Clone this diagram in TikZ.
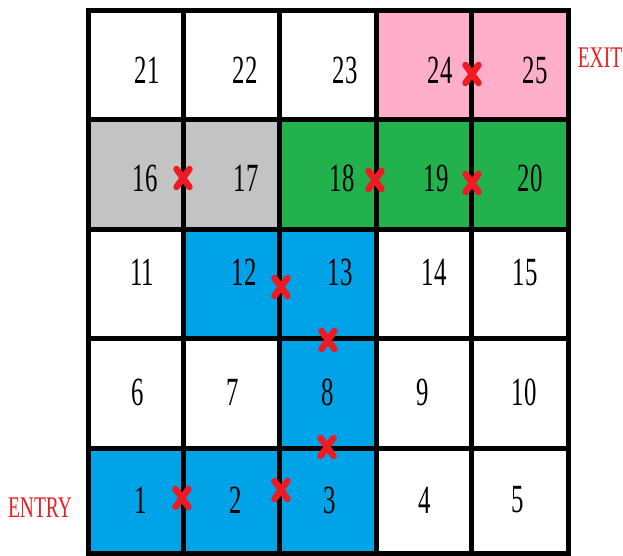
\documentclass[tikz,border=0pt]{standalone}
\usepackage{fontspec}
\newfontfamily\numfont[FakeStretch=0.62]{Liberation Serif}
\newfontfamily\lblfont[FakeStretch=0.65]{Liberation Serif}
\definecolor{cpink}{RGB}{255,174,201}
\definecolor{cgray}{RGB}{195,195,195}
\definecolor{cgreen}{RGB}{34,177,76}
\definecolor{cblue}{RGB}{0,162,232}
\definecolor{cred}{RGB}{237,28,36}
\begin{document}
\begin{tikzpicture}[x=1pt,y=-1pt,
  num/.style={inner sep=0pt, font=\numfont\fontsize{40}{40}\selectfont},
  side/.style={inner sep=0pt, text=cred, font=\lblfont\fontsize{30}{30}\selectfont},
  gridline/.style={line width=5pt, black},
  xstroke/.style={line width=6.5pt, cred, line cap=round}]
\useasboundingbox (0,0) rectangle (623,556);
\fill[white] (0,0) rectangle (623,556);
% cell fills
\fill[cpink] (376,11) rectangle (568,120);
\fill[cgray] (88,120) rectangle (279,229);
\fill[cgreen] (279,120) rectangle (568,229);
\fill[cblue] (183,229) rectangle (376,338);
\fill[cblue] (279,338) rectangle (376,448);
\fill[cblue] (88,448) rectangle (376,553);
% grid
\foreach \x in {183,279,376,471} \draw[gridline] (\x,11) -- (\x,553);
\foreach \y in {120,229,338,448} \draw[gridline] (88,\y) -- (568,\y);
\draw[gridline] (88,11) rectangle (568,553);
% numbers
\foreach \n/\x/\y in {21/147/70,22/245/70,23/345/70,24/440/70,25/535/70,
  16/145/178,17/246/178,18/342/178,19/436/178,20/530/178,
  11/142/272,12/244/272,13/340/272,14/434/272,15/525/272,
  6/138/392,7/233/392,8/328/392,9/423/392,10/524/392,
  1/141/500,2/236/500,3/330/500,4/425/500,5/518/500}
  \node[num] (n\n) at (\x,\y) {\n};
% labels
\node[side] (exit) at (600,58) {EXIT};
\node[side] (entry) at (40,508) {ENTRY};
% red crosses
\foreach \i/\x/\y in {a/472/74,b/183/178,c/375/180,d/472/183,e/281/287,
  f/328/340,g/327/447,h/182/498,k/281/490}
  \coordinate (x\i) at (\x,\y);
\foreach \i in {a,b,c,d,e,f,g,h,k}
  \draw[xstroke, shift={(x\i)}] (-6.5,-9) -- (6.5,9) (-6.5,9) -- (6.5,-9);
\end{tikzpicture}
\end{document}
